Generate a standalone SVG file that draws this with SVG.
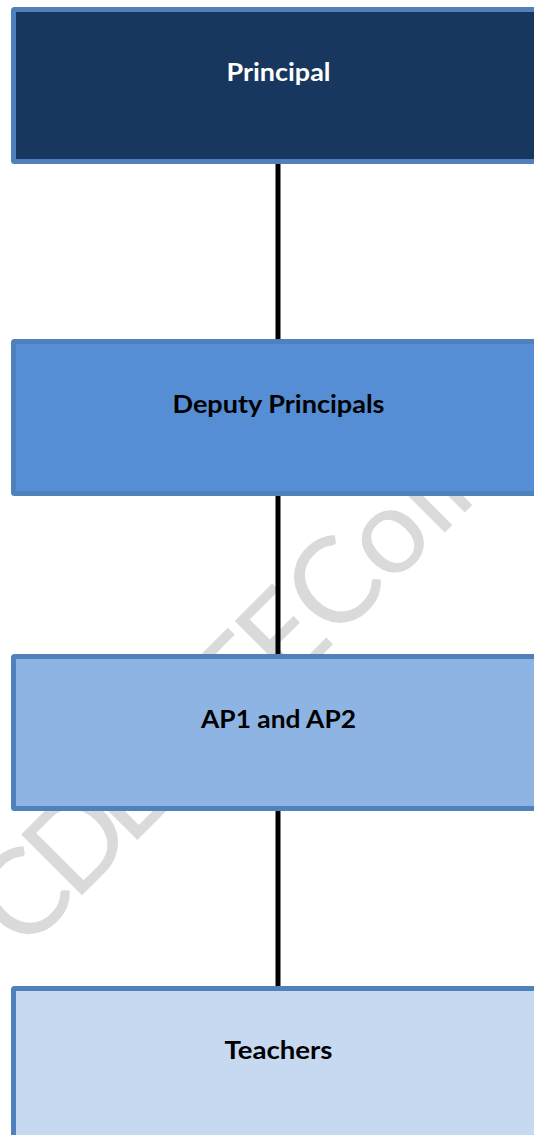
<svg xmlns="http://www.w3.org/2000/svg" width="534" height="1135" viewBox="0 0 534 1135">
  <style>
    .box { stroke: #4f81bd; stroke-width: 5; }
    .label { font-family: Lato, "Liberation Sans", sans-serif; font-weight: 700; font-size: 25px; text-anchor: middle; }
    .wm { font-family: Lato, "Open Sans", sans-serif; font-weight: 400; font-size: 120px; fill: #dadada; }
    .link { stroke: #000; stroke-width: 5; }
  </style>
  <rect width="534" height="1135" fill="#ffffff"/>

  <!-- diagonal watermark, sits under the boxes -->
  <text class="wm" transform="rotate(-45)" y="691" x="-658 -586 -508 -352 -284 -232 -218">CDETE College</text>

  <!-- connectors -->
  <g id="connectors">
    <line class="link" x1="278" y1="164" x2="278" y2="339"/>
    <line class="link" x1="278" y1="496" x2="278" y2="654"/>
    <line class="link" x1="278" y1="811" x2="278" y2="986"/>
  </g>

  <g id="principal">
    <rect class="box" x="13.5" y="9.5" width="540" height="152" rx="1" fill="#17375e"/>
    <text class="label" x="278.5" y="81" fill="#ffffff" textLength="104" lengthAdjust="spacingAndGlyphs">Principal</text>
  </g>

  <g id="deputy-principals">
    <rect class="box" x="13.5" y="341.5" width="540" height="152" rx="1" fill="#558ed5"/>
    <text class="label" x="278.5" y="413" fill="#000000" textLength="212" lengthAdjust="spacingAndGlyphs">Deputy Principals</text>
  </g>

  <g id="ap1-ap2">
    <rect class="box" x="13.5" y="656.5" width="540" height="152" rx="1" fill="#8eb4e3"/>
    <text class="label" x="278.5" y="728" fill="#000000" textLength="155" lengthAdjust="spacingAndGlyphs">AP1 and AP2</text>
  </g>

  <g id="teachers">
    <rect class="box" x="13.5" y="988.5" width="540" height="152" rx="1" fill="#c6d9f1"/>
    <text class="label" x="278.5" y="1059" fill="#000000" textLength="108" lengthAdjust="spacingAndGlyphs">Teachers</text>
  </g>
</svg>
